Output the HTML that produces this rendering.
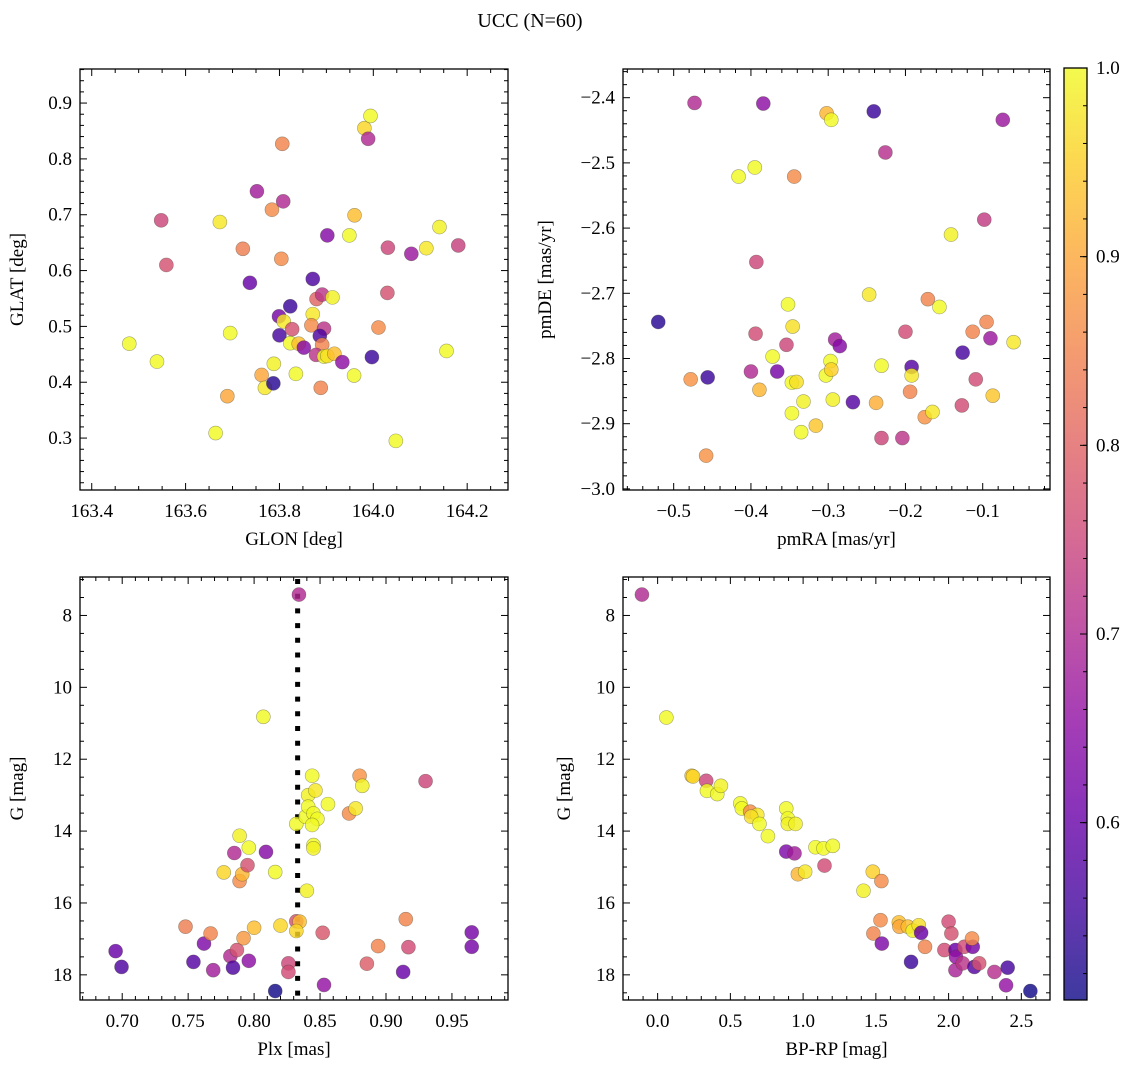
<!DOCTYPE html>
<html><head><meta charset="utf-8"><title>UCC (N=60)</title>
<style>
html,body{margin:0;padding:0;background:#fff;}
svg{display:block;font-family:"Liberation Serif","DejaVu Serif",serif;}
</style></head>
<body>
<svg id="fig" width="1136" height="1067" viewBox="0 0 1136 1067" xmlns="http://www.w3.org/2000/svg">
<defs>
<linearGradient id="cmap" x1="0" y1="1" x2="0" y2="0">
<stop offset="0" stop-color="#0d0887"/><stop offset="0.1" stop-color="#41049d"/><stop offset="0.2" stop-color="#6a00a8"/>
<stop offset="0.3" stop-color="#8f0da4"/><stop offset="0.4" stop-color="#b12a90"/><stop offset="0.5" stop-color="#cc4778"/>
<stop offset="0.6" stop-color="#e16462"/><stop offset="0.7" stop-color="#f2844b"/><stop offset="0.8" stop-color="#fca636"/>
<stop offset="0.9" stop-color="#fcce25"/><stop offset="1" stop-color="#f0f921"/>
</linearGradient>
</defs>
<text x="530" y="27" font-size="20" text-anchor="middle">UCC (N=60)</text>
</svg>
<script>
// ---- Data ----
const glon = [163.48,163.539,163.548,163.559,163.664,163.673,163.695,163.689,163.722,163.737,163.752,163.762,163.769,163.784,163.787,163.788,163.806,163.808,163.804,163.799,163.8,163.809,163.823,163.827,163.823,163.841,163.852,163.835,163.871,163.879,163.891,163.913,163.871,163.868,163.895,163.886,163.891,163.878,163.895,163.902,163.917,163.934,163.888,163.902,163.949,163.96,163.959,163.981,163.994,163.989,163.997,164.011,164.031,164.03,164.048,164.081,164.113,164.141,164.156,164.181];
const glat = [0.469,0.437,0.690,0.610,0.309,0.687,0.488,0.375,0.639,0.578,0.742,0.413,0.390,0.709,0.398,0.433,0.827,0.724,0.621,0.518,0.484,0.509,0.536,0.495,0.470,0.469,0.462,0.415,0.585,0.549,0.557,0.552,0.522,0.502,0.496,0.483,0.467,0.449,0.446,0.447,0.451,0.436,0.390,0.663,0.663,0.699,0.412,0.855,0.877,0.836,0.445,0.498,0.641,0.560,0.295,0.630,0.640,0.678,0.456,0.645];
const probA = [1,1,0.75,0.77,1,0.98,1,0.9,0.84,0.6,0.68,0.9,0.98,0.86,0.53,0.99,0.85,0.7,0.86,0.62,0.56,0.98,0.55,0.77,1,0.93,0.64,1,0.57,0.8,0.72,0.99,0.98,0.86,0.72,0.57,0.85,0.72,1,0.97,0.93,0.65,0.85,0.64,1,0.93,1,0.96,1,0.7,0.55,0.86,0.75,0.77,1,0.67,0.98,0.99,1,0.74];

const pmra = [-0.520,-0.473,-0.478,-0.458,-0.456,-0.416,-0.395,-0.393,-0.394,-0.400,-0.389,-0.384,-0.372,-0.366,-0.354,-0.352,-0.346,-0.344,-0.347,-0.341,-0.347,-0.332,-0.335,-0.316,-0.303,-0.297,-0.296,-0.302,-0.296,-0.294,-0.291,-0.285,-0.268,-0.247,-0.241,-0.238,-0.231,-0.231,-0.226,-0.204,-0.200,-0.192,-0.192,-0.194,-0.175,-0.165,-0.171,-0.156,-0.141,-0.127,-0.126,-0.113,-0.109,-0.098,-0.095,-0.090,-0.087,-0.074,-0.060];
const pmde = [-2.744,-2.408,-2.832,-2.949,-2.829,-2.521,-2.507,-2.652,-2.762,-2.820,-2.848,-2.409,-2.797,-2.820,-2.779,-2.717,-2.751,-2.521,-2.837,-2.836,-2.884,-2.866,-2.913,-2.903,-2.826,-2.804,-2.817,-2.424,-2.434,-2.863,-2.771,-2.781,-2.867,-2.702,-2.421,-2.868,-2.811,-2.922,-2.484,-2.922,-2.759,-2.813,-2.826,-2.851,-2.890,-2.882,-2.709,-2.721,-2.610,-2.872,-2.791,-2.759,-2.832,-2.587,-2.744,-2.769,-2.857,-2.434,-2.775];
const probB = [0.53,0.7,0.87,0.87,0.55,1,1,0.75,0.76,0.7,0.92,0.65,1,0.62,0.75,1,0.97,0.86,1,0.97,1,0.99,1,0.94,1,1,0.95,0.92,1,0.99,0.68,0.64,0.58,0.98,0.55,0.91,1,0.75,0.71,0.72,0.76,0.58,0.98,0.85,0.87,0.98,0.85,1,0.99,0.76,0.56,0.85,0.76,0.73,0.85,0.67,0.94,0.67,0.98];

const plx = [0.695,0.6995,0.748,0.754,0.762,0.767,0.769,0.777,0.782,0.787,0.784,0.789,0.785,0.789,0.791,0.792,0.795,0.796,0.796,0.800,0.807,0.809,0.816,0.820,0.826,0.826,0.816,0.834,0.832,0.8345,0.832,0.832,0.839,0.844,0.841,0.8465,0.841,0.845,0.848,0.844,0.845,0.845,0.840,0.852,0.853,0.856,0.872,0.877,0.880,0.882,0.8855,0.894,0.913,0.915,0.917,0.930,0.965,0.965];
const gmagC = [17.34,17.78,16.66,17.64,17.13,16.85,17.87,15.15,17.48,17.31,17.80,14.13,14.61,15.39,15.20,16.98,14.95,14.46,17.61,16.69,10.82,14.58,15.14,16.63,17.68,17.92,18.45,7.42,16.51,16.52,16.78,13.80,13.60,12.46,13.00,12.87,13.32,13.51,13.66,13.83,14.39,14.48,15.66,16.83,18.28,13.25,13.51,13.37,12.46,12.74,17.69,17.20,17.92,16.45,17.23,12.61,16.82,17.22];
const probC = [0.6,0.57,0.84,0.58,0.63,0.85,0.68,0.96,0.7,0.77,0.57,0.99,0.7,0.86,0.92,0.88,0.77,1,0.65,0.93,1,0.64,1,0.96,0.75,0.76,0.51,0.7,0.77,0.93,0.96,1,1,1,0.99,0.98,1,1,1,1,1,0.99,0.99,0.78,0.66,1,0.86,0.98,0.87,0.99,0.79,0.85,0.6,0.85,0.76,0.75,0.62,0.62];
const plxMedian = 0.833;

const bprp = [-0.108,0.06,0.234,0.243,0.334,0.339,0.41,0.435,0.568,0.579,0.636,0.685,0.643,0.70,0.758,0.884,0.895,0.895,0.948,0.884,0.941,0.964,1.014,1.085,1.14,1.204,1.147,1.415,1.479,1.538,1.532,1.483,1.541,1.658,1.662,1.72,1.754,1.795,1.811,1.742,1.838,1.971,2.0,2.019,2.047,2.051,2.047,2.097,2.108,2.166,2.161,2.177,2.21,2.315,2.406,2.395,2.562];
const gmagD = [7.42,10.84,12.46,12.48,12.6,12.88,12.97,12.74,13.23,13.37,13.46,13.55,13.6,13.8,14.14,13.37,13.65,13.8,13.8,14.57,14.62,15.2,15.13,14.45,14.48,14.41,14.96,15.66,15.13,15.39,16.48,16.85,17.13,16.54,16.66,16.66,16.77,16.62,16.83,17.64,17.22,17.31,16.52,16.85,17.31,17.5,17.87,17.68,17.22,17.22,16.99,17.78,17.68,17.92,17.8,18.29,18.45];
const probD = [0.7,1,0.94,0.96,0.75,1,1,0.99,1,1,0.86,0.98,0.97,1,1,1,1,0.99,0.99,0.63,0.68,0.92,0.98,1,1,1,0.76,0.99,0.95,0.86,0.86,0.85,0.63,0.93,0.9,0.93,0.99,0.97,0.6,0.55,0.85,0.76,0.76,0.77,0.6,0.66,0.69,0.72,0.76,0.62,0.86,0.58,0.77,0.71,0.56,0.66,0.51];

const cbTicks = [0.6,0.7,0.8,0.9,1.0];
const vmin = 0.506, vmax = 1.0;

// ---- Helpers ----
const NS = "http://www.w3.org/2000/svg";
const svg = document.getElementById('fig');
const FS = 19;
function mk(tag, attrs, parent){ const e=document.createElementNS(NS,tag); for(const k in attrs) e.setAttribute(k,attrs[k]); (parent||svg).appendChild(e); return e; }
const stops=[[0,[13,8,135]],[0.1,[65,4,157]],[0.2,[106,0,168]],[0.3,[143,13,164]],[0.4,[177,42,144]],[0.5,[204,71,120]],[0.6,[225,100,98]],[0.7,[242,132,75]],[0.8,[252,166,54]],[0.9,[252,206,37]],[1,[240,249,33]]];
function cmap(v){ let t=(v-vmin)/(vmax-vmin); t=Math.max(0,Math.min(1,t));
  for(let i=0;i<stops.length-1;i++){ if(t<=stops[i+1][0]){ const a=stops[i],b=stops[i+1],f=(t-a[0])/(b[0]-a[0]);
    return 'rgb('+a[1].map((c,j)=>Math.round(c+(b[1][j]-c)*f)).join(',')+')'; } }
  return 'rgb(240,249,33)'; }
function fmt(v,d){ const s=Math.abs(v).toFixed(d); return (v<-1e-9?'\u2212':'')+s; }

function panel(o){
  const L=o.box[0],T=o.box[1],R=o.box[2],B=o.box[3];
  const g=mk('g',{});
  
  
  const sx=v=>L+(v-o.xlim[0])/(o.xlim[1]-o.xlim[0])*(R-L);
  const sy=v=>B-(v-o.ylim[0])/(o.ylim[1]-o.ylim[0])*(B-T);
  const tk=mk('g',{stroke:'#000','stroke-width':1},g);
  const xs=Math.ceil(o.xlim[0]/o.xminor-1e-6);
  for(let k=xs;k*o.xminor<=o.xlim[1]+1e-9;k++){ const v=k*o.xminor, X=sx(v);
    const major=Math.abs(v/o.xmajor-Math.round(v/o.xmajor))<1e-6; const len=major?7:4;
    mk('line',{x1:X,x2:X,y1:B,y2:B-len},tk); mk('line',{x1:X,x2:X,y1:T,y2:T+len},tk);
    if(major){ const t=mk('text',{x:X,y:B+27,'font-size':FS,'text-anchor':'middle',stroke:'none',fill:'#000'},g);
        t.textContent=fmt(v,o.xdec); } }
  const ys=Math.ceil(Math.min(o.ylim[0],o.ylim[1])/o.yminor-1e-6);
  const ymax=Math.max(o.ylim[0],o.ylim[1]);
  for(let k=ys;k*o.yminor<=ymax+1e-9;k++){ const v=k*o.yminor, Y=sy(v);
    const major=Math.abs(v/o.ymajor-Math.round(v/o.ymajor))<1e-6; const len=major?7:4;
    mk('line',{x1:L,x2:L+len,y1:Y,y2:Y},tk); mk('line',{x1:R,x2:R-len,y1:Y,y2:Y},tk);
    if(major){ const t=mk('text',{x:L-8,y:Y+6,'font-size':FS,'text-anchor':'end',stroke:'none',fill:'#000'},g);
        t.textContent=fmt(v,o.ydec); } }
  if(o.vline!==undefined){ const X=sx(o.vline);
    const ln=mk('line',{x1:X,x2:X,y1:T+2,y2:B,stroke:'#000','stroke-width':5,'stroke-dasharray':'5 9.7'},g);
      }
  const pts=mk('g',{},g);
   
  for(let i=0;i<o.x.length;i++){
    const c=mk('circle',{cx:sx(o.x[i]),cy:sy(o.y[i]),r:7,fill:cmap(o.c[i]),'fill-opacity':0.82,stroke:'rgba(60,60,40,0.45)','stroke-width':0.6},pts);
    
    
  }
  const fr=mk('rect',{x:L,y:T,width:R-L,height:B-T,fill:'none',stroke:'#000','stroke-width':1.3},g);
   
  const xl=mk('text',{x:(L+R)/2,y:B+55,'font-size':FS,'text-anchor':'middle'},g);
    xl.textContent=o.xlabel;
  const yx=o.ylx, yc=(T+B)/2;
  const yl=mk('text',{x:yx,y:yc,'font-size':FS,'text-anchor':'middle',transform:'rotate(-90 '+yx+' '+yc+')'},g);
    yl.textContent=o.ylabel;
}

panel({name:'glon-glat-panel',box:[80,69,508,490],xlim:[163.375,164.287],ylim:[0.207,0.961],xmajor:0.2,xminor:0.05,ymajor:0.1,yminor:0.02,xdec:1,ydec:1,x:glon,y:glat,c:probA,xlabel:'GLON [deg]',ylabel:'GLAT [deg]',ylx:23});
panel({name:'pm-panel',box:[623,69,1050,490],xlim:[-0.5656,-0.0129],ylim:[-3.0017,-2.356],xmajor:0.1,xminor:0.02,ymajor:0.1,yminor:0.02,xdec:1,ydec:1,x:pmra,y:pmde,c:probB,xlabel:'pmRA [mas/yr]',ylabel:'pmDE [mas/yr]',ylx:551});
panel({name:'plx-g-panel',box:[80,577,508,1000],xlim:[0.668,0.9925],ylim:[18.7,6.93],xmajor:0.05,xminor:0.01,ymajor:2,yminor:0.5,xdec:2,ydec:0,x:plx,y:gmagC,c:probC,vline:plxMedian,xlabel:'Plx [mas]',ylabel:'G [mag]',ylx:23});
panel({name:'cmd-panel',box:[623,577,1050,1000],xlim:[-0.238,2.697],ylim:[18.7,6.93],xmajor:0.5,xminor:0.1,ymajor:2,yminor:0.5,xdec:1,ydec:0,x:bprp,y:gmagD,c:probD,xlabel:'BP-RP [mag]',ylabel:'G [mag]',ylx:570});

// ---- Colorbar ----
const cb=mk('g',{});
 
const cT=68,cB=1000,cL=1064,cR=1087;
mk('rect',{x:cL,y:cT,width:cR-cL,height:cB-cT,fill:'url(#cmap)','fill-opacity':0.8},cb);
const cy=v=>cB-(v-vmin)/(vmax-vmin)*(cB-cT);
for(let v=0.52;v<=1.0001;v+=0.02){ const Y=cy(v); mk('line',{x1:cR,x2:cR-4,y1:Y,y2:Y,stroke:'#000','stroke-width':1},cb); }
cbTicks.forEach(v=>{ const Y=cy(v); mk('line',{x1:cR,x2:cR-7,y1:Y,y2:Y,stroke:'#000','stroke-width':1},cb);
  const t=mk('text',{x:cR+9,y:Y+6,'font-size':FS},cb);
    t.textContent=v.toFixed(1); });
mk('rect',{x:cL,y:cT,width:cR-cL,height:cB-cT,fill:'none',stroke:'#000','stroke-width':1.3},cb);
</script>
</body></html>
